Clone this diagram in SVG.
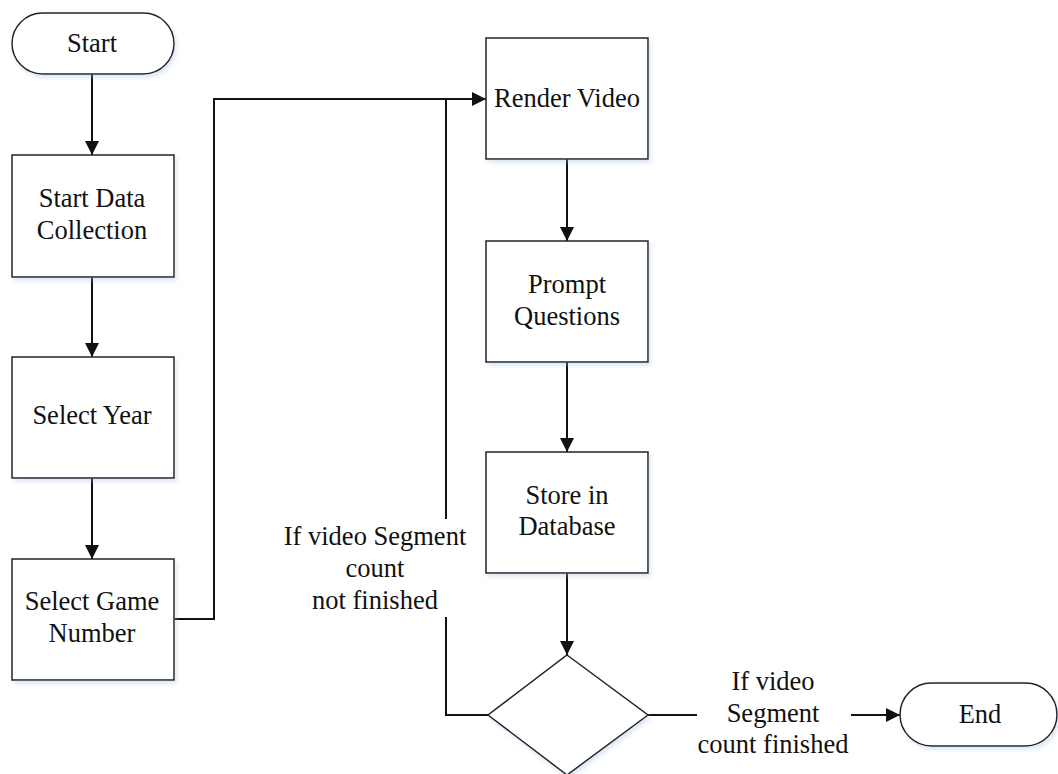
<svg xmlns="http://www.w3.org/2000/svg" width="1058" height="774" viewBox="0 0 1058 774">
<style>
.shape{fill:#fff;stroke:#222;stroke-width:1.5;filter:url(#sh)}
.conn{fill:none;stroke:#111;stroke-width:2}
text{font-family:"Liberation Serif","Times New Roman",serif;font-size:26.5px;fill:#111;text-anchor:middle}
</style>
<defs>
<filter id="sh" x="-10%" y="-10%" width="130%" height="130%">
<feDropShadow dx="2" dy="3" stdDeviation="2" flood-color="#9db8e0" flood-opacity="0.35"/>
</filter>
<marker id="arr" viewBox="0 0 14 14" refX="14" refY="7" markerWidth="14" markerHeight="14" markerUnits="userSpaceOnUse" orient="auto">
<path d="M0,0 L14,7 L0,14 Z" fill="#111"/>
</marker>
</defs>
<g id="connectors">
<path class="conn" d="M92,74 V155" marker-end="url(#arr)"/>
<path class="conn" d="M92,277 V357" marker-end="url(#arr)"/>
<path class="conn" d="M92,478 V559" marker-end="url(#arr)"/>
<path class="conn" d="M174,619 H214 V99 H486" marker-end="url(#arr)"/>
<path class="conn" d="M567,159 V241" marker-end="url(#arr)"/>
<path class="conn" d="M567,362 V452" marker-end="url(#arr)"/>
<path class="conn" d="M567,573 V655" marker-end="url(#arr)"/>
<path class="conn" d="M488,715 H446 V617 M446,519 V99"/>
<path class="conn" d="M648,715 H697"/>
<path class="conn" d="M851,715 H900" marker-end="url(#arr)"/>
<text x="375" y="545">If video Segment</text>
<text x="375" y="577">count</text>
<text x="375" y="609">not finished</text>
<text x="773" y="690">If video</text>
<text x="773" y="722">Segment</text>
<text x="773" y="753">count finished</text>
</g>
<g id="start">
<rect class="shape" x="12" y="13" width="162" height="61" rx="30.5"/>
<text x="92" y="52">Start</text>
</g>
<g id="start-data">
<rect class="shape" x="12" y="155" width="162" height="122"/>
<text x="92" y="207">Start Data</text>
<text x="92" y="239">Collection</text>
</g>
<g id="select-year">
<rect class="shape" x="12" y="357" width="162" height="121"/>
<text x="92" y="424">Select Year</text>
</g>
<g id="select-game">
<rect class="shape" x="12" y="559" width="162" height="121"/>
<text x="92" y="610">Select Game</text>
<text x="92" y="642">Number</text>
</g>
<g id="render-video">
<rect class="shape" x="486" y="38" width="162" height="121"/>
<text x="567" y="107">Render Video</text>
</g>
<g id="prompt">
<rect class="shape" x="486" y="241" width="162" height="121"/>
<text x="567" y="293">Prompt</text>
<text x="567" y="325">Questions</text>
</g>
<g id="store">
<rect class="shape" x="486" y="452" width="162" height="121"/>
<text x="567" y="504">Store in</text>
<text x="567" y="535">Database</text>
</g>
<g id="decision">
<polygon class="shape" points="567,655 648,715 567,775 488,715"/>
</g>
<g id="end">
<rect class="shape" x="900" y="683" width="157" height="63" rx="31.5"/>
<text x="980" y="723">End</text>
</g>
</svg>
